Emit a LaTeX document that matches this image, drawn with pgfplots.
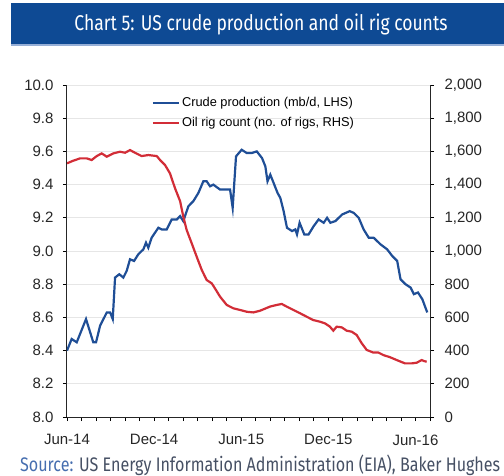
\documentclass[border=0pt]{standalone}
\usepackage{fontspec}
\setmainfont{Liberation Sans}
\newfontfamily\condfont[FakeStretch=0.82]{Fira Sans}
\usepackage{pgfplots}
\pgfplotsset{compat=1.18}

\definecolor{banner}{RGB}{14,74,148}
\definecolor{bannerlight}{RGB}{150,175,215}
\definecolor{prodblue}{RGB}{31,78,150}
\definecolor{rigred}{RGB}{210,45,55}
\definecolor{gridgray}{RGB}{230,230,230}
\definecolor{srcblue}{RGB}{70,110,175}
\definecolor{srcgray}{RGB}{70,80,100}

\begin{document}
\begin{tikzpicture}
\useasboundingbox (0,0) rectangle (504pt,475pt);

% title banner
\fill[banner] (11pt,431pt) rectangle (504pt,472pt);
\fill[bannerlight] (11pt,429pt) rectangle (504pt,431pt);
\node[text=white, inner sep=0pt] at (261pt,451pt)
  {\resizebox{373pt}{!}{\condfont\fontsize{22}{24}\selectfont Chart 5: US crude production and oil rig counts}};

\pgfplotsset{
  base/.style={
    scale only axis,
    width=363pt, height=332pt,
    at={(67pt,58pt)}, anchor=south west,
    xmin=0, xmax=25,
    /pgf/number format/assume math mode=true,
    tick align=outside,
    major tick length=4pt, minor tick length=4pt,
    every tick/.style={black, line width=0.8pt},
    tick label style={font=\fontsize{15}{17}\selectfont, text=black!85},
  },
}

% left axis: crude production
\begin{axis}[
  base,
  ymin=8, ymax=10,
  ytick={8,8.2,...,10.01},
  yticklabel style={/pgf/number format/fixed, /pgf/number format/fixed zerofill,
    /pgf/number format/precision=1, xshift=-6pt},
  axis y line*=left,
  axis x line*=bottom,
  axis line style={line width=1pt, black!85, -},
  xtick={0,6,12,18,24},
  xticklabels={Jun-14,Dec-14,Jun-15,Dec-15,Jun-16},
  minor xtick={1,2,3,4,5,7,8,9,10,11,13,14,15,16,17,19,20,21,22,23,25},
  xticklabel style={yshift=-10pt},
  ymajorgrids,
  major grid style={gridgray, line width=0.8pt},
  legend style={at={(0.225,0.975)}, anchor=north west, draw=none, fill=none,
    font=\fontsize{12.8}{15}\selectfont, row sep=5pt,
    /tikz/every even column/.append style={column sep=2pt}},
  legend cell align=left,
  legend image code/.code={\draw[#1] (0pt,0pt) -- (26pt,0pt);},
]
\addplot[prodblue, line width=2.2pt] coordinates {
(0.00,8.40) (0.32,8.47) (0.67,8.45) (1.31,8.59) (1.81,8.45) (2.00,8.45)
(2.28,8.55) (2.74,8.63) (2.97,8.63) (3.15,8.59) (3.31,8.84) (3.60,8.86)
(3.88,8.84) (4.11,8.88) (4.34,8.95) (4.62,8.94) (4.91,8.98) (5.26,9.01)
(5.44,9.05) (5.60,9.02) (5.83,9.08) (6.29,9.14) (6.52,9.13) (6.87,9.13)
(7.21,9.19) (7.56,9.19) (7.79,9.21) (8.01,9.18) (8.36,9.27) (8.70,9.30)
(9.05,9.35) (9.39,9.42) (9.62,9.42) (9.85,9.39) (10.08,9.40) (10.54,9.37)
(11.23,9.37) (11.41,9.26) (11.64,9.57) (12.03,9.61) (12.38,9.59) (12.72,9.59)
(13.07,9.60) (13.43,9.56) (13.66,9.51) (13.81,9.42) (14.00,9.46) (14.23,9.41)
(14.50,9.35) (14.69,9.32) (14.92,9.24) (15.15,9.14) (15.50,9.12) (15.72,9.13)
(15.84,9.10) (16.02,9.17) (16.34,9.10) (16.64,9.10) (16.99,9.15) (17.33,9.19)
(17.68,9.17) (17.91,9.20) (18.14,9.17) (18.48,9.18) (18.95,9.22) (19.47,9.24)
(19.74,9.23) (20.09,9.20) (20.43,9.13) (20.78,9.08) (21.12,9.08) (21.59,9.04)
(22.05,9.01) (22.40,8.97) (22.74,8.94) (22.97,8.83) (23.31,8.80) (23.66,8.78)
(23.89,8.74) (24.17,8.75) (24.47,8.71) (24.81,8.63)
};
\addlegendentry{Crude production (mb/d, LHS)}
\addlegendimage{rigred, line width=2.2pt}
\addlegendentry{Oil rig count (no. of rigs, RHS)}
\end{axis}

% right axis: oil rig count
\begin{axis}[
  base,
  ymin=0, ymax=2000,
  ytick={0,200,...,2000},
  yticklabel style={/pgf/number format/1000 sep={,}, xshift=7pt},
  scaled y ticks=false,
  axis y line*=right,
  axis x line=none,
  axis line style={line width=1pt, black!85, -},
]
\addplot[rigred, line width=2.2pt] coordinates {
(0.00,1528) (0.43,1544) (0.90,1558) (1.36,1558) (1.70,1548) (2.05,1572)
(2.39,1588) (2.74,1568) (3.19,1588) (3.65,1598) (4.00,1592) (4.34,1608)
(4.68,1592) (5.14,1572) (5.60,1578) (6.18,1572) (6.41,1548) (6.75,1518)
(7.09,1468) (7.44,1378) (7.79,1300) (8.01,1207) (8.24,1127) (8.59,1046)
(8.93,966) (9.28,886) (9.62,825) (9.97,805) (10.19,775) (10.54,725)
(11.00,675) (11.45,655) (11.91,645) (12.38,634) (12.83,630) (13.29,640)
(13.98,665) (14.44,675) (14.79,681) (15.13,665) (15.59,645) (16.05,625)
(16.51,604) (16.96,584) (17.42,574) (17.77,564) (18.11,544) (18.34,520)
(18.57,544) (18.92,540) (19.26,520) (19.61,514) (19.95,494) (20.30,444)
(20.64,404) (21.10,388) (21.45,388) (21.79,373) (22.25,360) (22.82,339)
(23.28,323) (23.74,323) (24.08,327) (24.43,343) (24.59,337) (24.77,333)
};
\end{axis}

% source line
\node[anchor=west, inner sep=0pt] at (20pt,10pt)
  {\resizebox{480pt}{!}{\condfont\fontsize{15}{17}\selectfont\textcolor{srcblue}{Source:} \textcolor{srcgray}{US Energy Information Administration (EIA), Baker Hughes}}};
\end{tikzpicture}
\end{document}
